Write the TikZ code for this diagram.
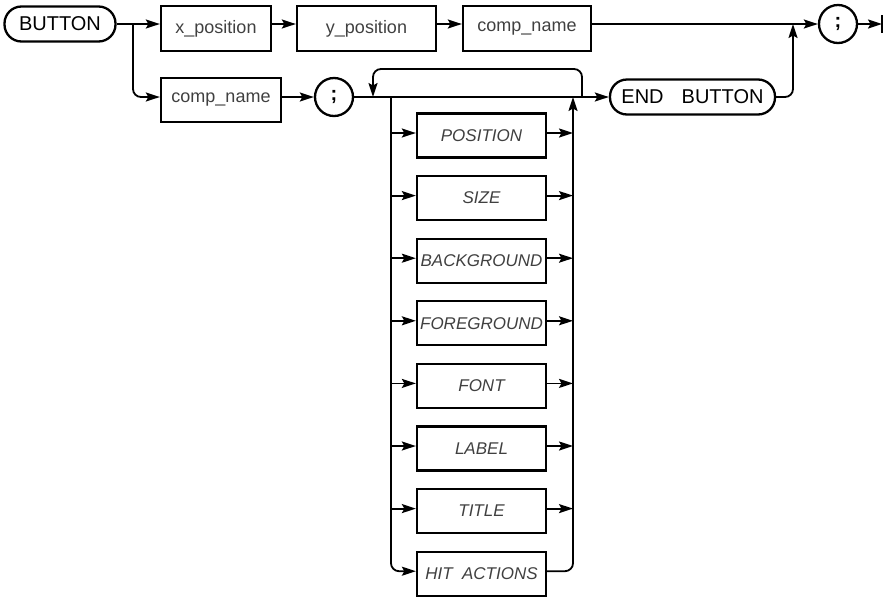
\documentclass[tikz,border=0pt]{standalone}
\usepackage{fontspec}
\setmainfont{Liberation Sans}
\usetikzlibrary{arrows.meta}
\begin{document}
\begin{tikzpicture}[x=1pt,y=-1pt,
  line width=1.8pt,
  arr/.style={-{Stealth[length=14pt,width=9pt,inset=2.5pt]}},
  box/.style={draw,line width=2.3pt,minimum height=45pt,inner sep=0pt,
    font=\fontsize{18}{18}\selectfont,text=black!75},
  opt/.style={draw,line width=2.3pt,minimum width=129pt,minimum height=44pt,inner sep=0pt,
    font=\fontsize{17}{17}\selectfont\itshape,text=black!75},
  term/.style={draw,line width=2.3pt,rounded corners=17pt,minimum height=35pt,inner sep=0pt,
    font=\fontsize{20}{20}\selectfont},
  semi/.style={draw,circle,line width=2.3pt,minimum size=38pt,inner sep=0pt,
    font=\fontsize{20}{20}\selectfont\bfseries}
]
\useasboundingbox (0,0) rectangle (886,598);

% top row
\node[term,minimum width=111pt] (bt) at (60,24) {BUTTON};
\node[box,minimum width=110pt] (xpos) at (216,28.5) {x\_position};
\node[box,minimum width=139pt] (ypos) at (366.5,28.5) {y\_position};
\node[box,minimum width=128pt] (cn1) at (527,28.5) {comp\_name};
\node[semi] (s1) at (838,24) {;};
\coordinate (endb) at (882,24);
\coordinate (endt) at (882,15);
\coordinate (endd) at (882,33);
\coordinate (j1) at (133,24);
\coordinate (m1) at (793,24);

% second row
\node[box,minimum width=120pt,minimum height=44pt] (cn2) at (221,100) {comp\_name};
\node[semi] (s2) at (334,97) {;};
\node[term,minimum width=165pt] (eb) at (692.5,97) {END\hspace{0.9em}BUTTON};
\coordinate (lpR) at (582,97);
\coordinate (lpRt) at (582,69);
\coordinate (lpLt) at (373,69);
\coordinate (lpL) at (373,97);
\coordinate (lv) at (391,97);
\coordinate (rv) at (573,97);

% options
\foreach \k/\t [count=\i from 0] in {o0/POSITION,o1/SIZE,o2/BACKGROUND,o3/FOREGROUND,o4/FONT,o5/LABEL,o6/TITLE,o7/HIT\hspace{0.55em}ACTIONS}{
  \coordinate (r\i) at (0,{133+62.6*\i});
  \node[opt] (\k) at (481.5,{135.5+62.6*\i}) {\t};
}

% connectors top row
\draw[arr] (bt.east) -- (bt.east -| xpos.west);
\draw[arr,rounded corners=8pt] (j1) |- (s2.center -| cn2.west);
\draw[arr] (bt.east -| xpos.east) -- (bt.east -| ypos.west);
\draw[arr] (bt.east -| ypos.east) -- (bt.east -| cn1.west);
\draw[arr] (bt.east -| cn1.east) -- (s1.west);
\draw[arr] (s1.east) -- (endb);
\draw[line width=2.3pt] (endt) -- (endd);

% connectors second row
\draw[arr] (s2.center -| cn2.east) -- (s2.west);
\draw[arr] (s2.east) -- (eb.west);
\draw[arr,rounded corners=8pt] (lpR) -- (lpRt) -- (lpLt) -- (lpL);
\draw[arr,rounded corners=8pt] (eb.east) -| (m1);

% option branches
\draw[arr,rounded corners=8pt] (lv) |- (o7.west |- r7);
\draw[arr,rounded corners=8pt] (o7.east |- r7) -| (rv);
\foreach \i in {0,...,6}{
  \draw[arr] (lv |- r\i) -- (o\i.west |- r\i);
  \draw[arr] (o\i.east |- r\i) -- (rv |- r\i);
}
\end{tikzpicture}
\end{document}
